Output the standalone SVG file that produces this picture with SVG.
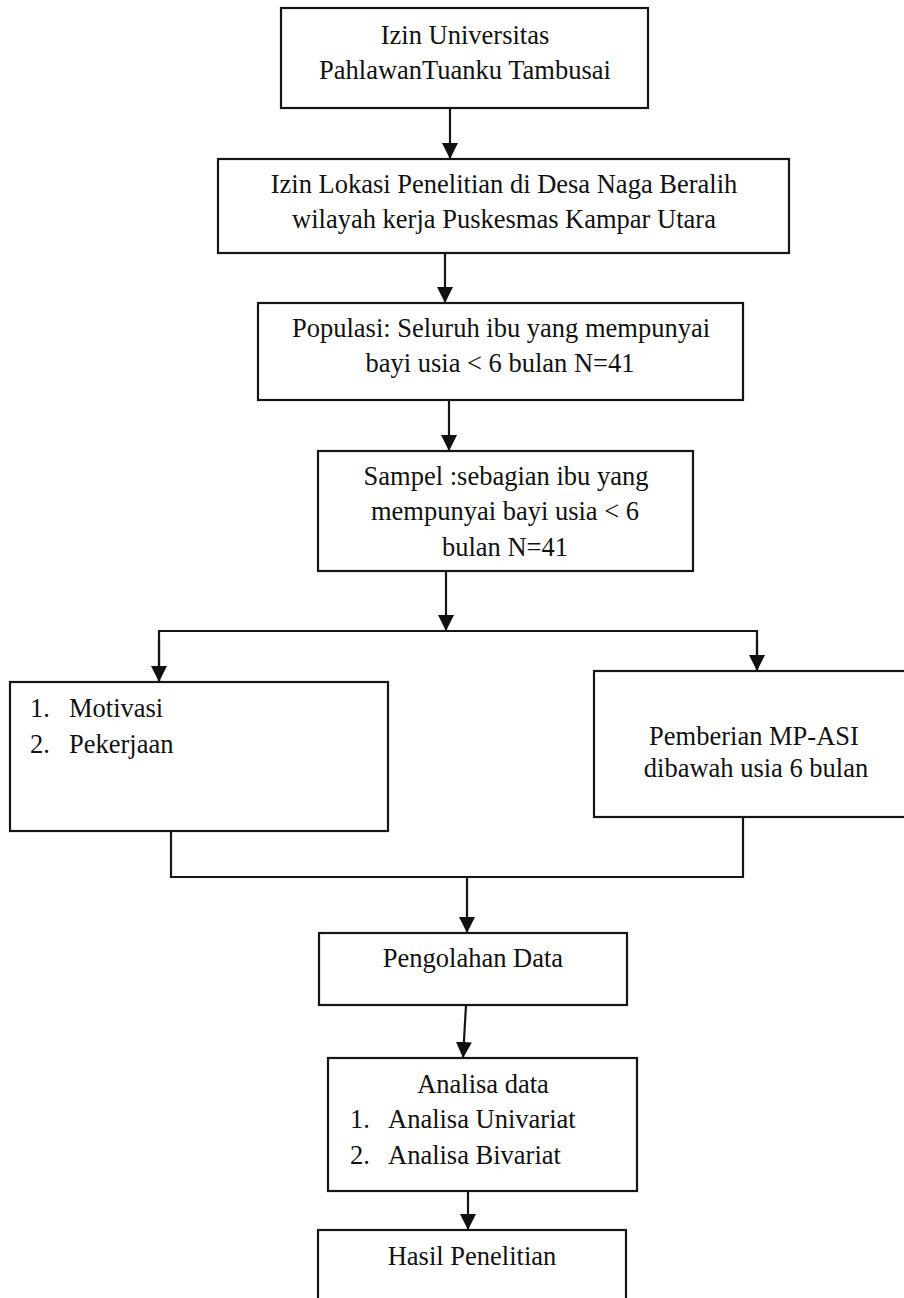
<svg xmlns="http://www.w3.org/2000/svg" width="904" height="1298" viewBox="0 0 904 1298">
<style>
.box{fill:#fff;stroke:#151515;stroke-width:2.2}
.ln{fill:none;stroke:#151515;stroke-width:2.2}
.t{font-family:"Liberation Serif","Times New Roman",serif;font-size:26.5px;fill:#111}
.c{text-anchor:middle}
</style>
<defs>
<marker id="ah" markerUnits="userSpaceOnUse" markerWidth="16" markerHeight="16" viewBox="0 0 16 16" refX="8" refY="16" orient="auto-start-reverse">
<path d="M0,0 L16,0 L8,16 Z" fill="#111" transform="rotate(-90 8 8)"/>
</marker>
<marker id="ad" markerUnits="userSpaceOnUse" markerWidth="16" markerHeight="16" viewBox="0 0 16 16" refX="16" refY="8" orient="auto">
<path d="M0,0 L16,8 L0,16 Z" fill="#111"/>
</marker>
</defs>
<rect width="904" height="1298" fill="#fff"/>
<g id="connectors">
<line class="ln" x1="450" y1="108" x2="450" y2="159" marker-end="url(#ad)"/>
<line class="ln" x1="445" y1="253" x2="445" y2="303" marker-end="url(#ad)"/>
<line class="ln" x1="449" y1="400" x2="449" y2="451" marker-end="url(#ad)"/>
<line class="ln" x1="446" y1="571" x2="446" y2="631" marker-end="url(#ad)"/>
<path class="ln" d="M159,682 V631 H757 V671"/>
<line class="ln" x1="159" y1="640" x2="159" y2="682" marker-end="url(#ad)"/>
<line class="ln" x1="757" y1="640" x2="757" y2="671" marker-end="url(#ad)"/>
<path class="ln" d="M171,831 V877 H743 V817"/>
<line class="ln" x1="467" y1="877" x2="467" y2="933" marker-end="url(#ad)"/>
<line class="ln" x1="466" y1="1005" x2="463" y2="1058" marker-end="url(#ad)"/>
<line class="ln" x1="468" y1="1191" x2="468" y2="1230" marker-end="url(#ad)"/>
</g>
<g id="n1">
<rect class="box" x="281" y="8" width="367" height="100"/>
<text class="t c" x="465" y="44">Izin Universitas</text>
<text class="t c" x="465" y="79">PahlawanTuanku Tambusai</text>
</g>
<g id="n2">
<rect class="box" x="218" y="159" width="571" height="94"/>
<text class="t c" x="504" y="193">Izin Lokasi Penelitian di Desa Naga Beralih</text>
<text class="t c" x="504" y="228">wilayah kerja Puskesmas Kampar Utara</text>
</g>
<g id="n3">
<rect class="box" x="258" y="303" width="485" height="97"/>
<text class="t c" x="501" y="337">Populasi: Seluruh ibu yang mempunyai</text>
<text class="t c" x="500" y="372">bayi usia &lt; 6 bulan N=41</text>
</g>
<g id="n4">
<rect class="box" x="318" y="451" width="375" height="120"/>
<text class="t c" x="506" y="485">Sampel :sebagian ibu yang</text>
<text class="t c" x="505" y="520">mempunyai bayi usia &lt; 6</text>
<text class="t c" x="505" y="556">bulan N=41</text>
</g>
<g id="n5">
<rect class="box" x="10" y="682" width="378" height="149"/>
<text class="t" x="30" y="717">1.</text>
<text class="t" x="69" y="717">Motivasi</text>
<text class="t" x="30" y="753">2.</text>
<text class="t" x="69" y="753">Pekerjaan</text>
</g>
<g id="n6">
<rect class="box" x="594" y="671" width="314" height="146"/>
<text class="t c" x="754" y="745">Pemberian MP-ASI</text>
<text class="t c" x="756" y="777">dibawah usia 6 bulan</text>
</g>
<g id="n7">
<rect class="box" x="319" y="933" width="308" height="72"/>
<text class="t c" x="473" y="967">Pengolahan Data</text>
</g>
<g id="n8">
<rect class="box" x="328" y="1058" width="309" height="133"/>
<text class="t c" x="483" y="1093">Analisa data</text>
<text class="t" x="350" y="1128">1.</text>
<text class="t" x="388" y="1128">Analisa Univariat</text>
<text class="t" x="350" y="1164">2.</text>
<text class="t" x="388" y="1164">Analisa Bivariat</text>
</g>
<g id="n9">
<rect class="box" x="318" y="1230" width="308" height="90"/>
<text class="t c" x="472" y="1265">Hasil Penelitian</text>
</g>
</svg>
